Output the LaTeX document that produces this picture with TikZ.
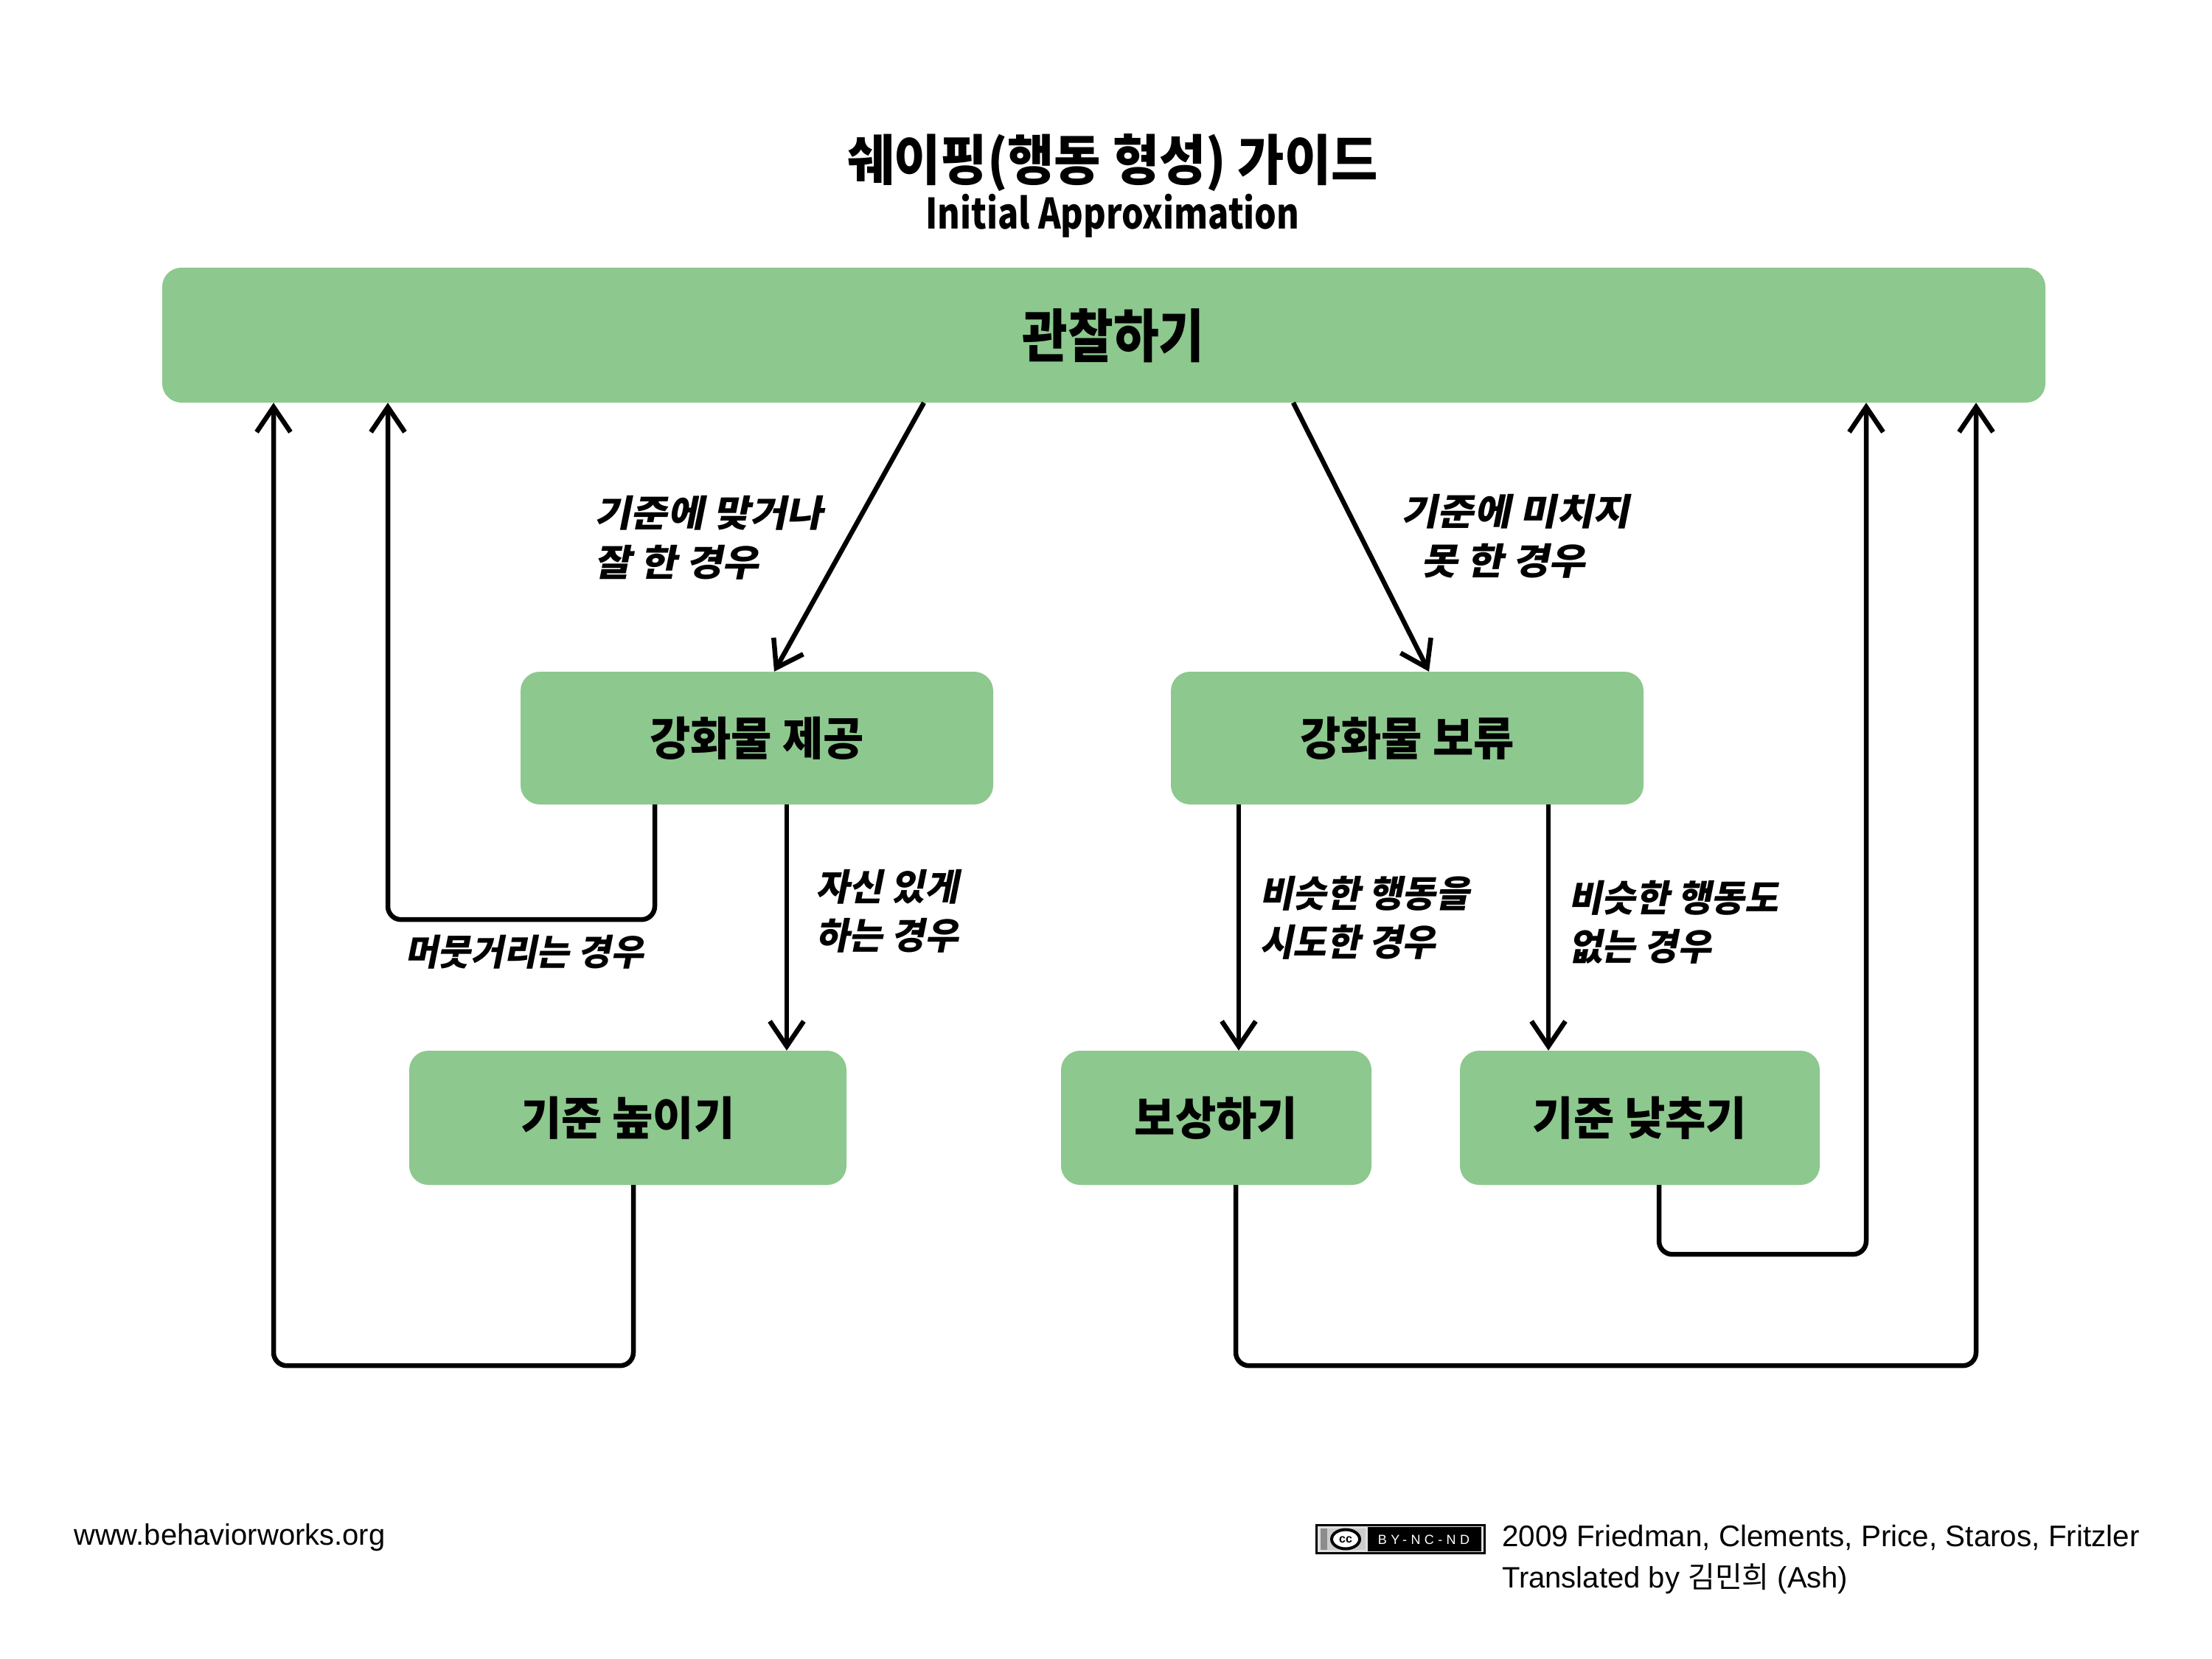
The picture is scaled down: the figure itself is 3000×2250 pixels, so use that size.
\documentclass[tikz,border=0pt]{standalone}
\usepackage{fontspec}
\usetikzlibrary{arrows.meta}
\setmainfont{Liberation Sans}
\newfontfamily\krtitle{Noto Sans CJK KR}[FakeStretch=0.93]
\newfontfamily\krsub{Noto Sans CJK KR}[FakeStretch=0.82]
\newfontfamily\krtop{Noto Sans CJK KR}[FakeStretch=0.86]
\newfontfamily\krbox{Noto Sans CJK KR}[FakeStretch=0.97]
\newfontfamily\krlab{Noto Sans CJK KR}[FakeStretch=0.99,FakeSlant=0.2]
\newfontfamily\krlabw{Noto Sans CJK KR}[FakeStretch=1.08,FakeSlant=0.2]
\newfontfamily\kr{Noto Sans CJK KR}
\newfontfamily\ccfont{Liberation Sans}[LetterSpace=30]
\definecolor{boxgreen}{RGB}{141,200,142}
\begin{document}
\begin{tikzpicture}[x=1pt,y=-1pt,
 box/.style={rectangle, rounded corners=26pt, fill=boxgreen, inner sep=0pt, font=\krbox\bfseries\fontsize{62}{70}\selectfont},
 arr/.style={line width=6.5pt, -{Straight Barb[length=34pt,width=46pt]}},
 lab/.style={anchor=west, align=left, inner sep=0pt, font=\krlab\bfseries\fontsize{50}{66}\selectfont},
 labw/.style={lab, font=\krlabw\bfseries\fontsize{50}{67}\selectfont},
 foot/.style={anchor=west, inner sep=0pt, font=\fontsize{40}{48}\selectfont}]
\useasboundingbox (0,0) rectangle (3000,2250);
\fill[white] (0,0) rectangle (3000,2250);
% title
\node[inner sep=0pt, font=\krtitle\bfseries\fontsize{74}{84}\selectfont] (title) at (1509,221) {쉐이핑(행동 형성) 가이드};
\node[inner sep=0pt, anchor=base, font=\krsub\bfseries\fontsize{57}{66}\selectfont] (subtitle) at (1509,310) {Initial Approximation};
% boxes
\node[box, minimum width=2554pt, minimum height=183pt] (top) at (1497,454.5) {};
\node[inner sep=0pt, font=\krtop\bfseries\fontsize{78}{86}\selectfont] (toplabel) at (1510,455) {관찰하기};
\node[box, minimum width=641pt, minimum height=180pt] (A) at (1026.5,1001) {강화물 제공};
\node[box, minimum width=641pt, minimum height=180pt] (B) at (1908.5,1001) {강화물 보류};
\node[box, minimum width=593pt, minimum height=182pt] (C) at (851.5,1516) {기준 높이기};
\node[box, minimum width=421pt, minimum height=182pt] (D) at (1649.5,1516) {보상하기};
\node[box, minimum width=488pt, minimum height=182pt] (E) at (2224,1516) {기준 낮추기};
% connectors
\draw[arr] ([xshift=-244pt]top.south) -- ([xshift=23.5pt]A.north);
\draw[arr] ([xshift=257pt]top.south) -- ([xshift=29.5pt]B.north);
\draw[arr] ([xshift=40.5pt]A.south) -- ([xshift=40.5pt]A.south |- C.north);
\draw[arr, rounded corners=18pt] ([xshift=-138.5pt]A.south) -- ++(0,156) -| ([xshift=-971pt]top.south);
\draw[arr, rounded corners=18pt] ([xshift=7.5pt]C.south) -- ++(0,245) -| ([xshift=-1126pt]top.south);
\draw[arr] ([xshift=-228.5pt]B.south) -- ([xshift=-228.5pt]B.south |- D.north);
\draw[arr] ([xshift=191.5pt]B.south) -- ([xshift=191.5pt]B.south |- E.north);
\draw[arr, rounded corners=18pt] ([xshift=26pt]E.south) -- ++(0,94) -| ([xshift=1034pt]top.south);
\draw[arr, rounded corners=18pt] ([xshift=26.5pt]D.south) -- ++(0,245) -| ([xshift=1183pt]top.south);
% labels
\node[labw] (l1) at (806,729) {기준에 맞거나\\잘 한 경우};
\node[labw] (l2) at (1900,727) {기준에 미치지\\\hspace*{27pt}못 한 경우};
\node[lab] (l3) at (1106,1236) {자신 있게\\하는 경우};
\node[lab, font=\krlab\bfseries\fontsize{49}{66}\selectfont] (l4) at (549,1291) {머뭇거리는 경우};
\node[lab] (l5) at (1708,1245) {비슷한 행동을\\시도한 경우};
\node[lab] (l6) at (2127,1251) {비슷한 행동도\\없는 경우};
% footer
\node[foot] (web) at (100,2085) {www.behaviorworks.org};
\node[foot, font=\fontsize{40.4}{48}\selectfont] (cred) at (2037,2085) {2009 Friedman, Clements, Price, Staros, Fritzler};
\node[foot] (trans) at (2037,2141) {Translated by {\kr 김민희} (Ash)};
% cc badge
\fill[black] (1784,2067) rectangle (2015,2108);
\fill[black!12] (1787,2070) rectangle (2012,2105);
\fill[black!45] (1791,2073) rectangle (1852,2102);
\fill[black!20] (1800,2073) rectangle (1852,2102);
\fill[black] (1855,2071) rectangle (2009,2104);
\draw[line width=4pt, fill=white] (1825,2087.5) ellipse [x radius=19pt, y radius=13pt];
\node[inner sep=0pt, font=\bfseries\fontsize{16}{17}\selectfont] (cc) at (1825,2088) {cc};
\node[inner sep=0pt, text=white, font=\ccfont\fontsize{18}{20}\selectfont] (byncnd) at (1931,2088) {BY-NC-ND};
\end{tikzpicture}
\end{document}
